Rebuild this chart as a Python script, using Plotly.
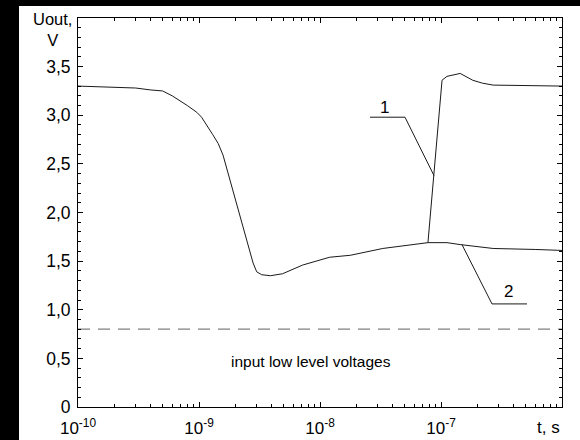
import math
import plotly.graph_objects as go

# ---- data ----
t_common = [1e-10, 2e-10, 3e-10, 4e-10, 5e-10, 6e-10, 7e-10, 8e-10, 9.6e-10, 1.05e-9,
            1.3e-9, 1.44e-9, 1.58e-9, 2.0e-9, 2.5e-9, 2.8e-9, 3.0e-9, 3.3e-9, 3.9e-9,
            4.9e-9, 7.2e-9, 1.2e-8, 1.78e-8, 3.3e-8, 7.8e-8]
v_common = [3.30, 3.29, 3.28, 3.26, 3.25, 3.20, 3.15, 3.10, 3.03, 2.98,
            2.80, 2.71, 2.59, 2.14, 1.71, 1.48, 1.39, 1.36, 1.35,
            1.37, 1.46, 1.54, 1.56, 1.63, 1.69]
t_tail1 = [8.75e-8, 1.02e-7, 1.12e-7, 1.44e-7, 1.83e-7, 2.2e-7, 2.7e-7, 6e-7, 1e-6]
v_tail1 = [2.38, 3.36, 3.40, 3.43, 3.36, 3.33, 3.31, 3.30, 3.30]
t_tail2 = [1.12e-7, 1.44e-7, 2.7e-7, 6e-7, 1e-6]
v_tail2 = [1.69, 1.67, 1.63, 1.62, 1.61]

input_low_level = 0.8
input_label_pos = (8.4e-9, 0.47)

# leader lines for curve labels
lead1_t = [2.59e-8, 5.04e-8, 8.75e-8]
lead1_v = [2.98, 2.98, 2.38]
lead2_t = [5.14e-7, 2.64e-7, 1.49e-7]
lead2_v = [1.06, 1.06, 1.67]
label1_pos = (3.44e-8, 3.08)
label2_pos = (3.58e-7, 1.19)

x_ticks = [1e-10, 1e-9, 1e-8, 1e-7]
x_ticktext = ["10<sup>-10</sup>", "10<sup>-9</sup>", "10<sup>-8</sup>", "10<sup>-7</sup>"]
x_minor = [m * 10.0 ** e for e in range(-10, -6) for m in range(2, 10)]
y_ticks = [0, 0.5, 1.0, 1.5, 2.0, 2.5, 3.0, 3.5]
y_ticktext = ["0", "0,5", "1,0", "1,5", "2,0", "2,5", "3,0", "3,5"]
y_minor = [round(i * 0.1, 1) for i in range(0, 41) if i % 5 != 0]

LINE = "#1a1a1a"
FONT = "Liberation Sans, Arial, sans-serif"

fig = go.Figure()
fig.add_trace(go.Scatter(x=t_common + t_tail1, y=v_common + v_tail1, mode="lines",
                         line=dict(color=LINE, width=1), showlegend=False))
fig.add_trace(go.Scatter(x=[t_common[-1]] + t_tail2, y=[v_common[-1]] + v_tail2, mode="lines",
                         line=dict(color=LINE, width=1), showlegend=False))
fig.add_trace(go.Scatter(x=[1e-10, 1e-6], y=[input_low_level, input_low_level], mode="lines",
                         line=dict(color="#808080", width=1.2, dash="12px,8px"), showlegend=False))
fig.add_trace(go.Scatter(x=lead1_t, y=lead1_v, mode="lines",
                         line=dict(color=LINE, width=1), showlegend=False))
fig.add_trace(go.Scatter(x=lead2_t, y=lead2_v, mode="lines",
                         line=dict(color=LINE, width=1), showlegend=False))

fig.add_annotation(x=math.log10(label1_pos[0]), y=label1_pos[1], xref="x", yref="y", text="1",
                   showarrow=False, xanchor="center", yanchor="middle",
                   font=dict(size=17, color="black", family=FONT))
fig.add_annotation(x=math.log10(label2_pos[0]), y=label2_pos[1], xref="x", yref="y", text="2",
                   showarrow=False, xanchor="center", yanchor="middle",
                   font=dict(size=17, color="black", family=FONT))
fig.add_annotation(x=math.log10(input_label_pos[0]), y=input_label_pos[1], xref="x", yref="y",
                   text="input low level voltages", showarrow=False,
                   xanchor="center", yanchor="middle",
                   font=dict(size=15.5, color="black", family=FONT))
fig.add_annotation(x=(548 - 78) / 484, y=(407 - 427) / 389, xref="paper", yref="paper",
                   text="t, s", showarrow=False, xanchor="center", yanchor="middle",
                   font=dict(size=17, color="black", family=FONT))
fig.add_annotation(x=(52 - 78) / 484, y=(407 - 30) / 389, xref="paper", yref="paper",
                   text="Uout,<br>V", showarrow=False, align="center",
                   xanchor="center", yanchor="middle",
                   font=dict(size=16.5, color="black", family=FONT))

# white page area over black background
fig.add_shape(type="rect", xref="paper", yref="paper", layer="below",
              x0=(19 - 78) / 484, x1=(585 - 78) / 484,
              y0=(407 - 445) / 389, y1=(407 - 6) / 389,
              fillcolor="white", line=dict(width=0))

fig.update_xaxes(type="log", range=[-10, -6], tickmode="array", tickvals=x_ticks,
                 ticktext=x_ticktext, ticks="inside", ticklen=5, tickcolor="black",
                 showline=True, linecolor="black", linewidth=1, mirror="allticks",
                 showgrid=False, zeroline=False, ticklabelstandoff=6, automargin=False,
                 tickfont=dict(size=17, color="black", family=FONT),
                 minor=dict(tickmode="array", tickvals=x_minor, ticks="inside", ticklen=3,
                            tickcolor="black", showgrid=False))
fig.update_yaxes(range=[0, 4], tickmode="array", tickvals=y_ticks, ticktext=y_ticktext,
                 ticks="inside", ticklen=5, tickcolor="black",
                 showline=True, linecolor="black", linewidth=1, mirror="allticks",
                 showgrid=False, zeroline=False, ticklabelstandoff=3, automargin=False,
                 tickfont=dict(size=17.5, color="black", family=FONT),
                 minor=dict(tickmode="array", tickvals=y_minor, ticks="inside", ticklen=3,
                            tickcolor="black", showgrid=False))

fig.update_layout(width=580, height=440, margin=dict(l=78, r=18, t=18, b=33),
                  paper_bgcolor="black", plot_bgcolor="white",
                  font=dict(family=FONT, color="black"), showlegend=False)

fig.write_html("out.html")
